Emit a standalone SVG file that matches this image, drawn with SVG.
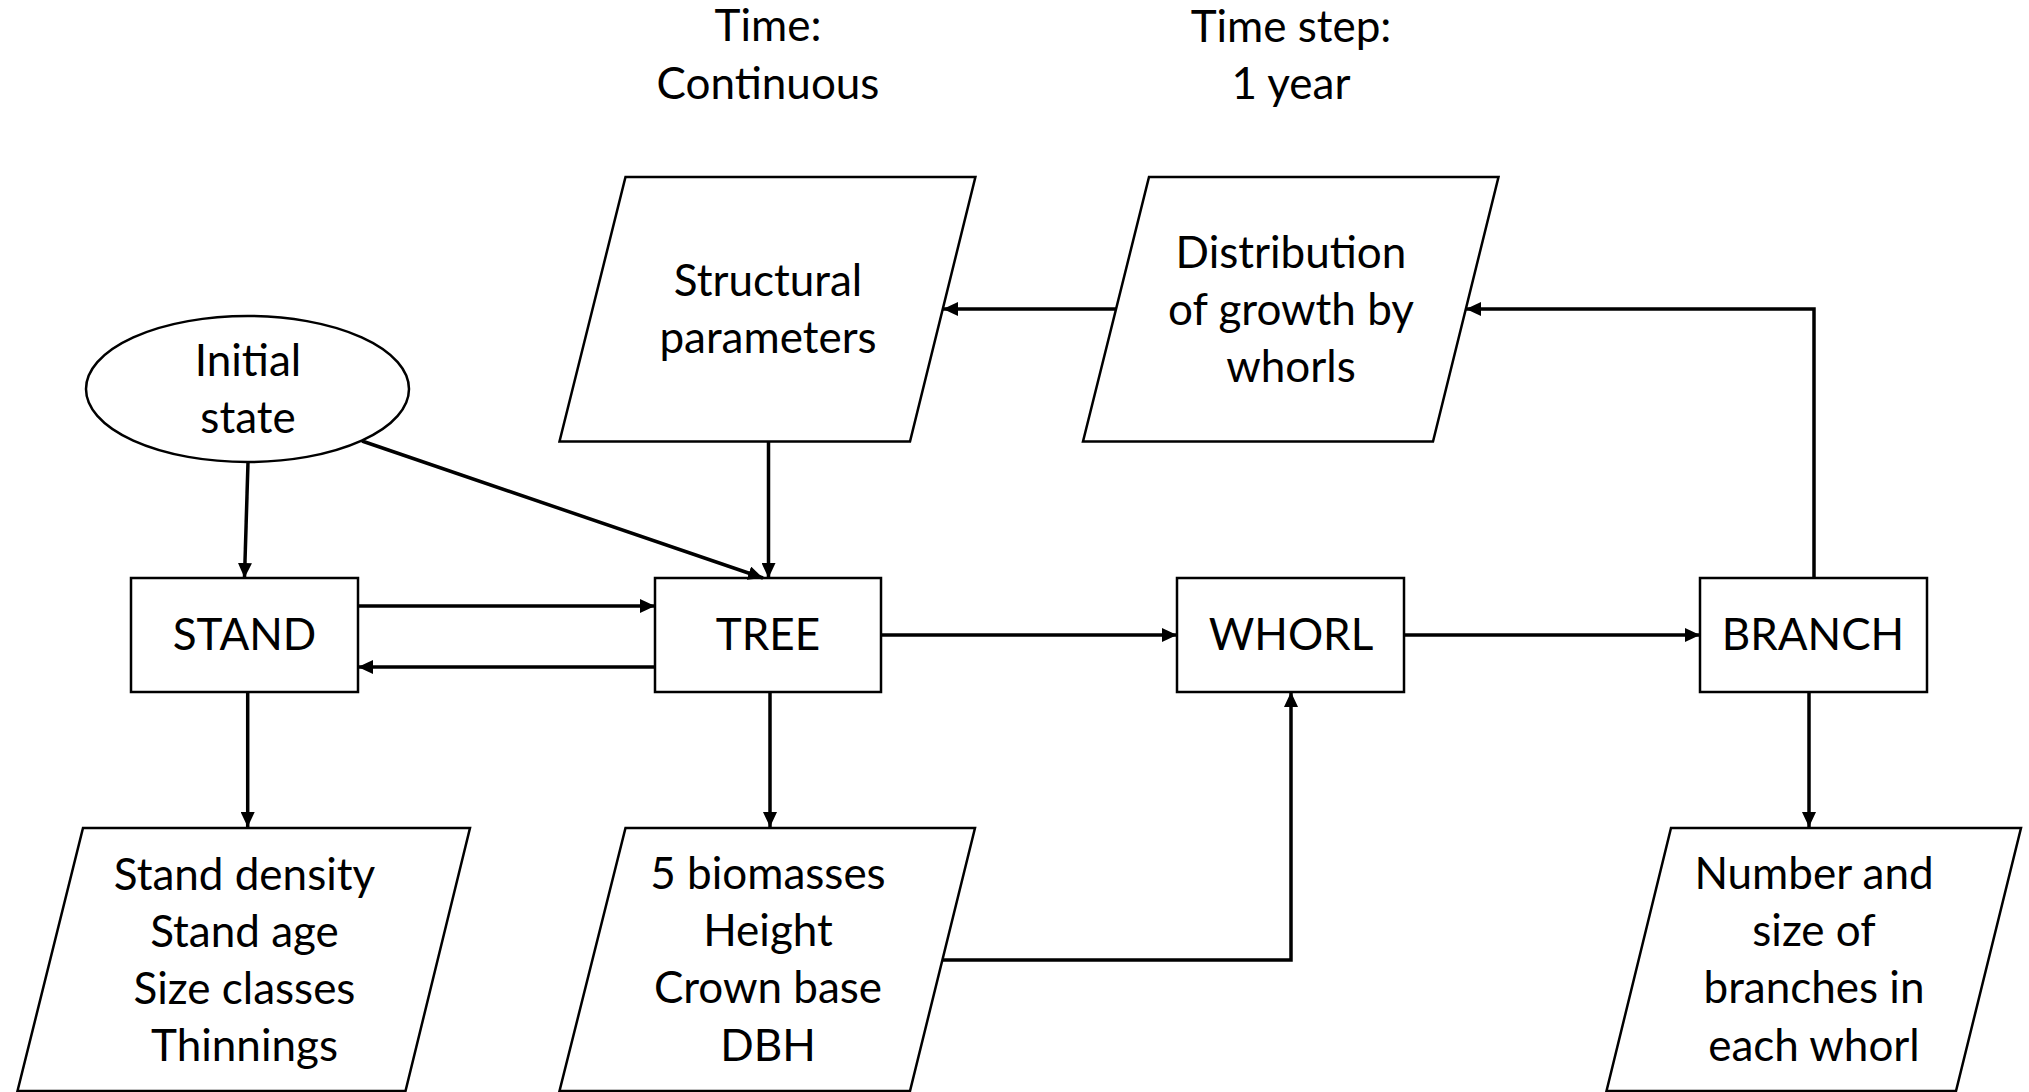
<svg xmlns="http://www.w3.org/2000/svg" width="2029" height="1092" viewBox="0 0 2029 1092">
<style>
.shape{fill:#fff;stroke:#000;stroke-width:2.5}
.conn{fill:none;stroke:#000;stroke-width:3.5}
text{font-family:Lato,"Open Sans","Liberation Sans",sans-serif;font-size:44px;fill:#000;text-anchor:middle}
</style>
<defs>
<marker id="ah" markerUnits="userSpaceOnUse" markerWidth="16" markerHeight="14" refX="15" refY="7" orient="auto">
<path d="M0,0 L15,7 L0,14 Z" fill="#000"/>
</marker>
</defs>
<rect width="2029" height="1092" fill="#fff"/>
<g id="label-time">
<text x="768" y="41">Time:</text>
<text x="768" y="99">Continuous</text>
</g>
<g id="label-timestep">
<text x="1291" y="42">Time step:</text>
<text x="1291" y="99">1 year</text>
</g>
<g id="initial-state">
<ellipse class="shape" cx="247.5" cy="389" rx="161.5" ry="73"/>
<text x="248" y="376">Initial</text>
<text x="248" y="433">state</text>
</g>
<g id="structural-parameters">
<polygon class="shape" points="625.5,177 975.4,177 910,441.5 559.5,441.5"/>
<text x="768" y="296">Structural</text>
<text x="768" y="353">parameters</text>
</g>
<g id="distribution">
<polygon class="shape" points="1149,177 1498.5,177 1433,441.5 1083,441.5"/>
<text x="1291" y="268">Distribution</text>
<text x="1291" y="325">of growth by</text>
<text x="1291" y="382">whorls</text>
</g>
<g id="stand">
<rect class="shape" x="131" y="578" width="227" height="114"/>
<text x="244.5" y="650">STAND</text>
</g>
<g id="tree">
<rect class="shape" x="655" y="578" width="226" height="114"/>
<text x="768" y="650">TREE</text>
</g>
<g id="whorl">
<rect class="shape" x="1177" y="578" width="227" height="114"/>
<text x="1291" y="650">WHORL</text>
</g>
<g id="branch">
<rect class="shape" x="1700" y="578" width="227" height="114"/>
<text x="1813" y="650">BRANCH</text>
</g>
<g id="stand-output">
<polygon class="shape" points="83,828 470,828 405.5,1091 17.5,1091"/>
<text x="244.5" y="890">Stand density</text>
<text x="244.5" y="947">Stand age</text>
<text x="244.5" y="1004">Size classes</text>
<text x="244.5" y="1061">Thinnings</text>
</g>
<g id="tree-output">
<polygon class="shape" points="625.5,828 975,828 910,1091 559.5,1091"/>
<text x="768" y="889">5 biomasses</text>
<text x="768" y="946">Height</text>
<text x="768" y="1003">Crown base</text>
<text x="768" y="1061">DBH</text>
</g>
<g id="branch-output">
<polygon class="shape" points="1671,828 2021,828 1956,1091 1606.5,1091"/>
<text x="1814" y="889">Number and</text>
<text x="1814" y="946">size of</text>
<text x="1814" y="1003">branches in</text>
<text x="1814" y="1061">each whorl</text>
</g>
<g id="connectors">
<path class="conn" marker-end="url(#ah)" d="M248,462 L244.5,578"/>
<path class="conn" marker-end="url(#ah)" d="M362,441 L763,578"/>
<path class="conn" marker-end="url(#ah)" d="M768.5,441.5 L768.5,578"/>
<path class="conn" marker-end="url(#ah)" d="M358,606 L655,606"/>
<path class="conn" marker-end="url(#ah)" d="M655,667 L358,667"/>
<path class="conn" marker-end="url(#ah)" d="M881,635 L1177,635"/>
<path class="conn" marker-end="url(#ah)" d="M1404,635 L1700,635"/>
<path class="conn" marker-end="url(#ah)" d="M247.7,692 L247.7,827"/>
<path class="conn" marker-end="url(#ah)" d="M770,692 L770,827"/>
<path class="conn" marker-end="url(#ah)" d="M1809,692 L1809,827"/>
<path class="conn" marker-end="url(#ah)" d="M943,960 L1291,960 L1291,692"/>
<path class="conn" marker-end="url(#ah)" d="M1814,578 L1814,309 L1466,309"/>
<path class="conn" marker-end="url(#ah)" d="M1116,309 L943,309"/>
</g>
</svg>
